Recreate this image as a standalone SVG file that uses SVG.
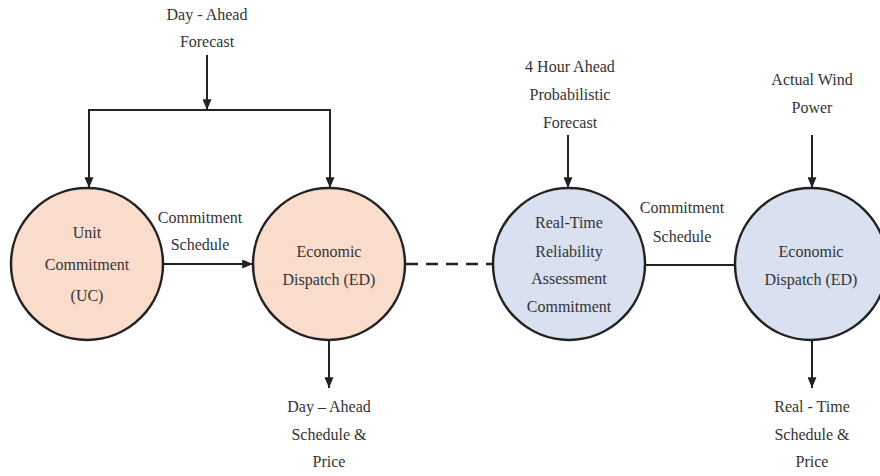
<svg xmlns="http://www.w3.org/2000/svg" width="880" height="476" viewBox="0 0 880 476">
<style>
text{font-family:"Liberation Serif","Times New Roman",serif;font-size:16px;fill:#333;text-anchor:middle}
.uc{fill:#f9dccb;stroke:#222;stroke-width:2.5}
.rt{fill:#d9e0f0;stroke:#222;stroke-width:2.5}
.ln{stroke:#222;stroke-width:2;fill:none}
.dash{stroke:#222;stroke-width:2.5;fill:none;stroke-dasharray:12 8}
</style>
<defs>
<marker id="ah" viewBox="0 0 12 10" refX="12" refY="5" markerWidth="12" markerHeight="9" orient="auto" markerUnits="userSpaceOnUse">
<path d="M0,0 L12,5 L0,10 z" fill="#222"/>
</marker>
</defs>
<rect width="880" height="476" fill="#fff"/>
<g id="connectors">
<line class="ln" x1="207" y1="55" x2="207" y2="110" marker-end="url(#ah)"/>
<polyline class="ln" points="89,188 89,110 330,110 330,188"/>
<line class="ln" x1="89" y1="150" x2="89" y2="188" marker-end="url(#ah)"/>
<line class="ln" x1="330" y1="150" x2="330" y2="188" marker-end="url(#ah)"/>
<line class="ln" x1="163" y1="264" x2="253" y2="264" marker-end="url(#ah)"/>
<line class="dash" x1="406" y1="264" x2="493" y2="264"/>
<line class="ln" x1="645" y1="265" x2="736" y2="265"/>
<line class="ln" x1="568" y1="135" x2="568" y2="188" marker-end="url(#ah)"/>
<line class="ln" x1="812" y1="135" x2="812" y2="188" marker-end="url(#ah)"/>
<line class="ln" x1="329" y1="340" x2="329" y2="388" marker-end="url(#ah)"/>
<line class="ln" x1="812" y1="340" x2="812" y2="388" marker-end="url(#ah)"/>
</g>
<g id="label-day-ahead-forecast"><text x="207" y="20">Day - Ahead</text><text x="207" y="47">Forecast</text></g>
<g id="label-cs1"><text x="200" y="223">Commitment</text><text x="200" y="250">Schedule</text></g>
<g id="label-4h"><text x="570" y="72">4 Hour Ahead</text><text x="570" y="100">Probabilistic</text><text x="570" y="128">Forecast</text></g>
<g id="label-wind"><text x="812" y="85">Actual Wind</text><text x="812" y="113">Power</text></g>
<g id="label-cs2"><text x="682" y="213">Commitment</text><text x="682" y="242">Schedule</text></g>
<g id="label-da-out"><text x="329" y="412">Day – Ahead</text><text x="329" y="440">Schedule &amp;</text><text x="329" y="467">Price</text></g>
<g id="label-rt-out"><text x="812" y="412">Real - Time</text><text x="812" y="440">Schedule &amp;</text><text x="812" y="467">Price</text></g>
<g id="node-uc"><circle class="uc" cx="87" cy="264" r="76"/><text x="87" y="238">Unit</text><text x="87" y="270">Commitment</text><text x="87" y="301">(UC)</text></g>
<g id="node-ed1"><circle class="uc" cx="329" cy="264" r="76"/><text x="329" y="257">Economic</text><text x="329" y="285">Dispatch (ED)</text></g>
<g id="node-rt"><circle class="rt" cx="569" cy="264" r="76"/><text x="569" y="228">Real-Time</text><text x="569" y="257">Reliability</text><text x="569" y="284">Assessment</text><text x="569" y="312">Commitment</text></g>
<g id="node-ed2"><circle class="rt" cx="811" cy="264" r="76"/><text x="811" y="257">Economic</text><text x="811" y="285">Dispatch (ED)</text></g>
</svg>
